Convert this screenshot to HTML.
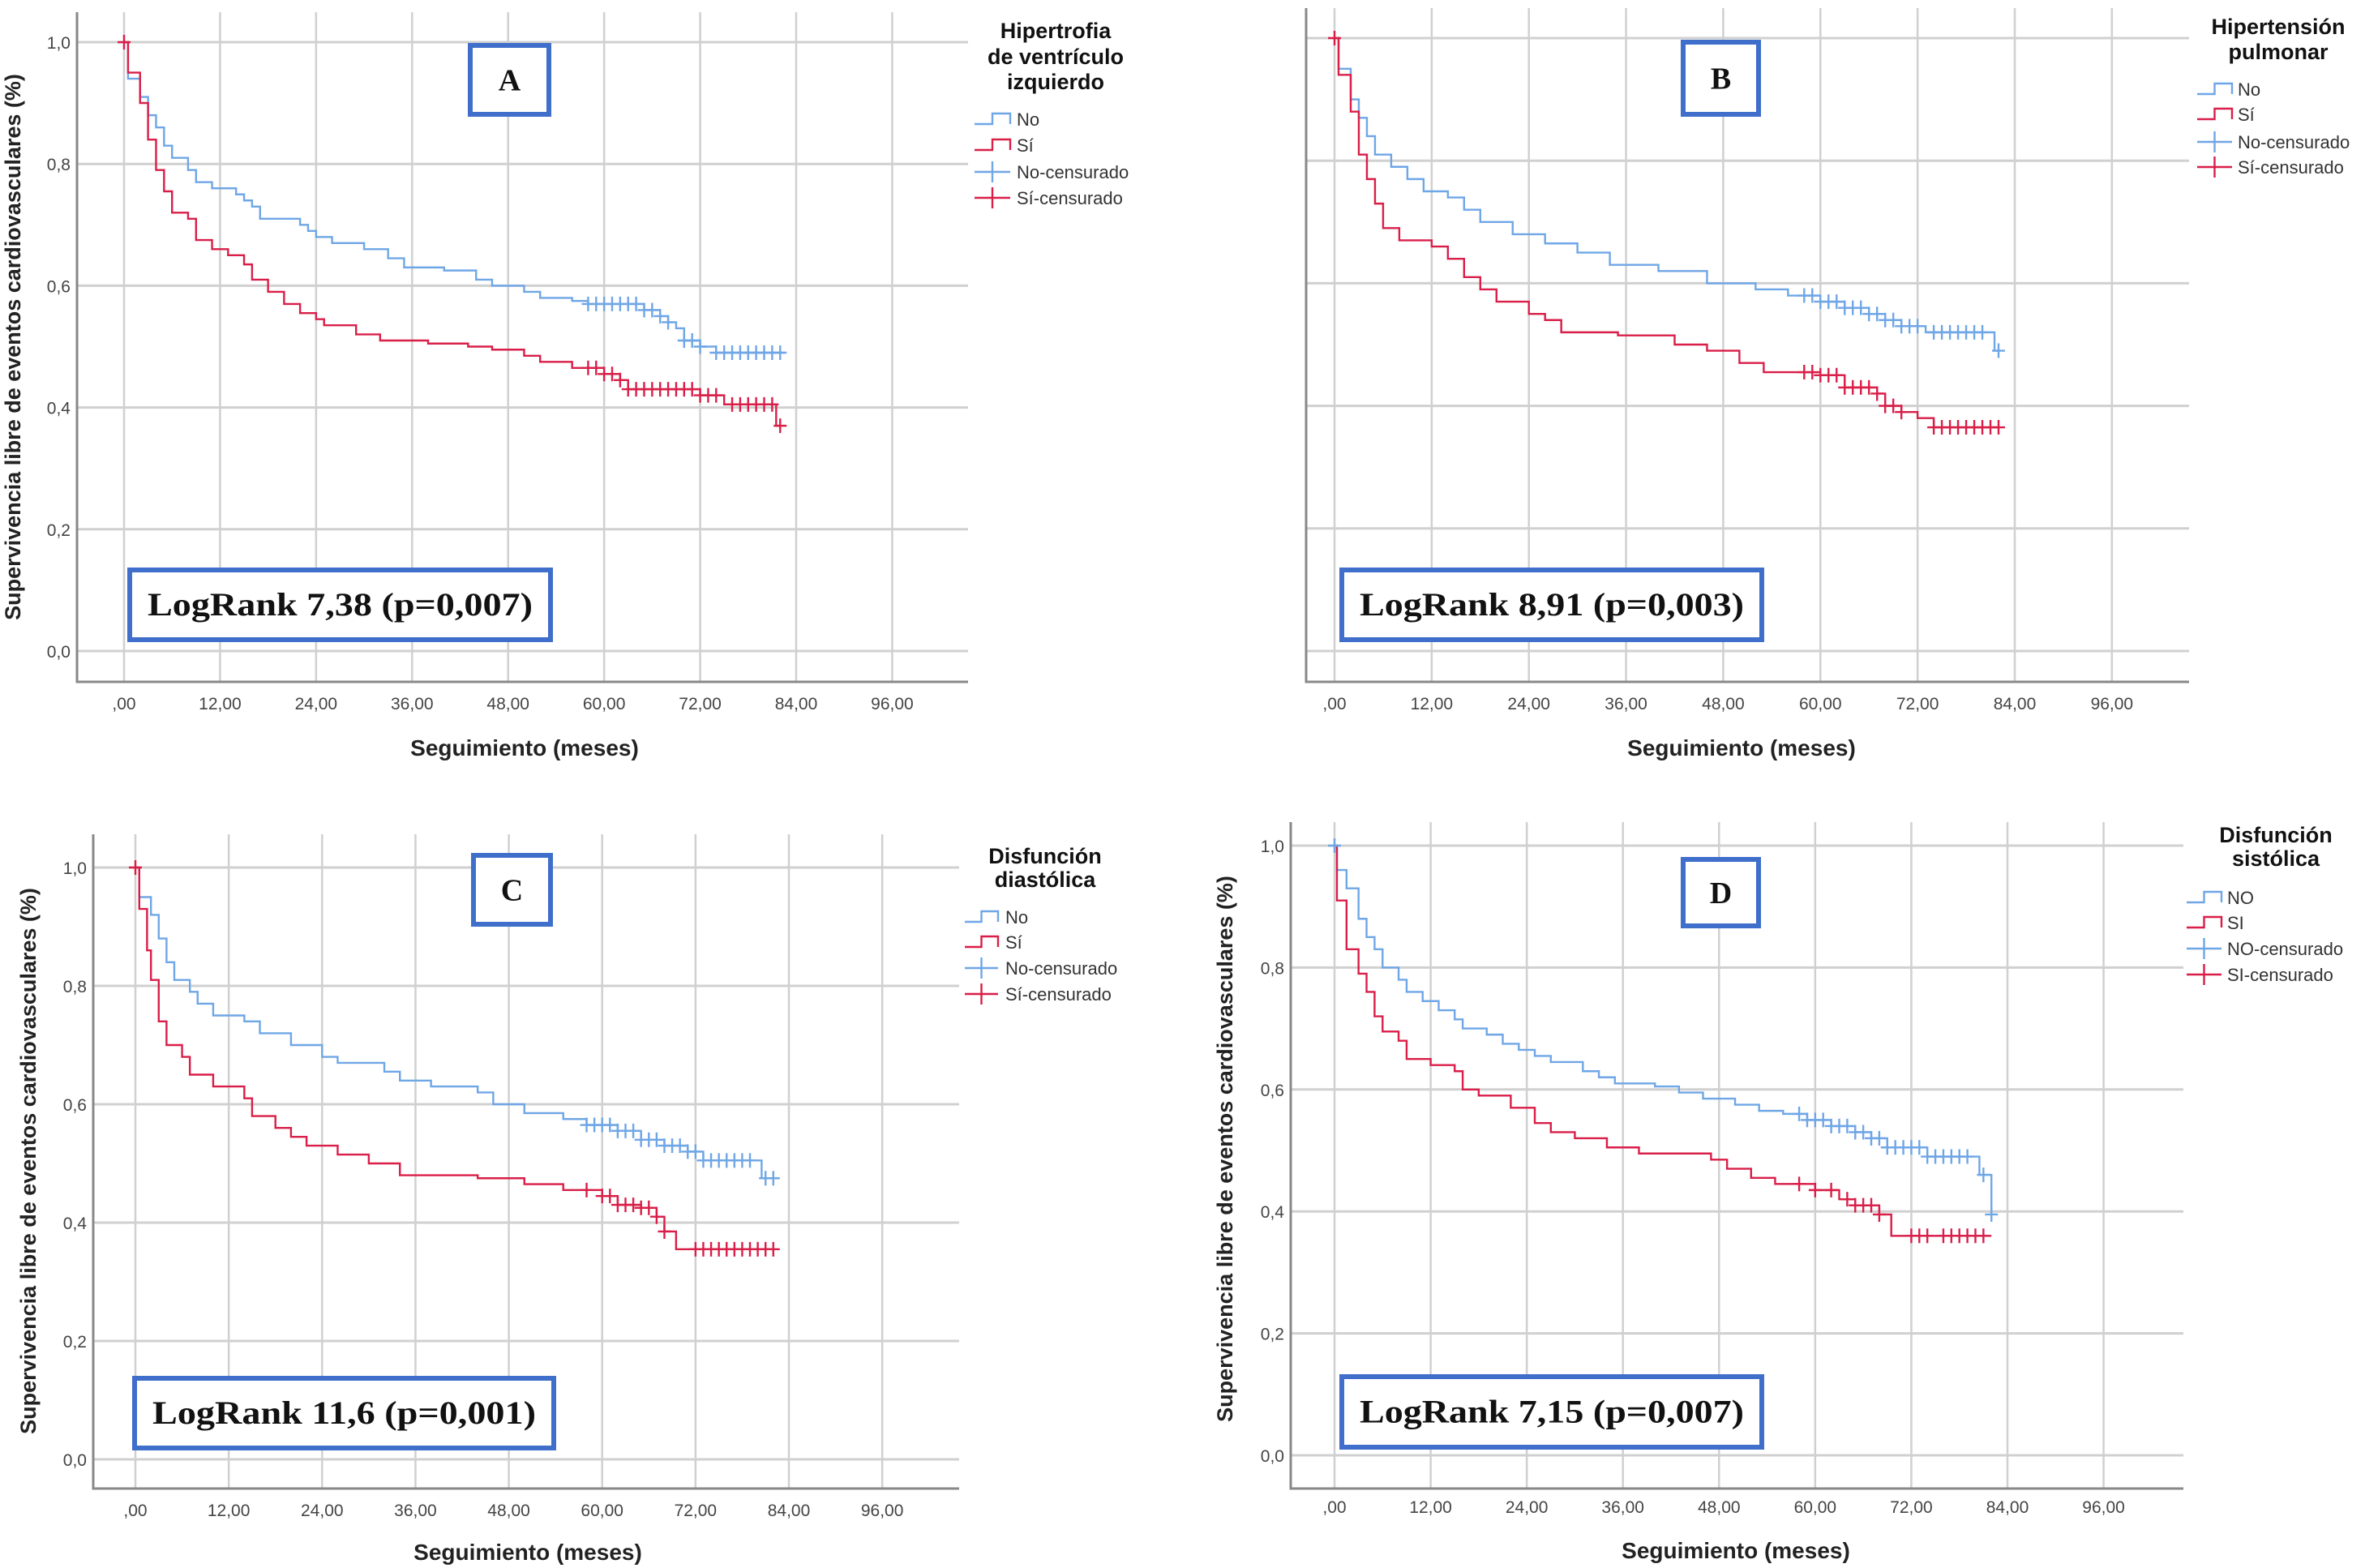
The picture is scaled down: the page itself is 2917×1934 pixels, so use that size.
<!DOCTYPE html>
<html><head><meta charset="utf-8"><style>
html,body{margin:0;padding:0;background:#fff;overflow:hidden;}
svg{display:block;font-family:"Liberation Sans",sans-serif;}
</style></head><body>
<svg id="c" width="2917" height="1934" viewBox="0 0 2917 1934"></svg>
<script>
const aNo=[[0,1],[0.5,0.94],[2,0.91],[3,0.88],[4,0.86],[5,0.83],[6,0.81],[8,0.79],[9,0.77],[11,0.76],[14,0.75],[15,0.74],[16,0.73],[17,0.71],[22,0.70],[23,0.69],[24,0.68],[26,0.67],[30,0.66],[33,0.645],[35,0.63],[40,0.625],[44,0.61],[46,0.60],[50,0.59],[52,0.58],[56,0.575],[58,0.57],[65,0.56],[67,0.55],[68,0.54],[69,0.53],[70,0.51],[72,0.50],[74,0.49],[82.5,0.49]];
const aSi=[[0,1],[0.5,0.95],[2,0.90],[3,0.84],[4,0.79],[5,0.755],[6,0.72],[8,0.71],[9,0.675],[11,0.66],[13,0.65],[15,0.635],[16,0.61],[18,0.59],[20,0.57],[22,0.555],[24,0.545],[25,0.535],[29,0.52],[32,0.51],[38,0.505],[43,0.50],[46,0.495],[50,0.485],[52,0.475],[56,0.465],[60,0.455],[62,0.445],[63,0.43],[72,0.42],[75,0.405],[81.5,0.37],[82,0.37]];
const aNoCens=[58,59,60,61,62,63,64,65,66,67,68,70,71,72,74,75,76,77,78,79,80,81,82];
const aSiCens=[58,59,60,61,62,63,64,65,66,67,68,69,70,71,72,73,74,76,77,78,79,80,81,82];
const bNo=[[0,1],[0.5,0.95],[2,0.90],[3,0.87],[4,0.84],[5,0.81],[7,0.79],[9,0.77],[11,0.75],[14,0.74],[16,0.72],[18,0.70],[22,0.68],[26,0.665],[30,0.65],[34,0.63],[40,0.62],[46,0.60],[52,0.59],[56,0.58],[60,0.57],[63,0.56],[66,0.55],[68,0.54],[70,0.53],[73,0.52],[81.5,0.49],[82,0.49]];
const bSi=[[0,1],[0.5,0.94],[2,0.88],[3,0.81],[4,0.77],[5,0.73],[6,0.69],[8,0.67],[12,0.66],[14,0.64],[16,0.61],[18,0.59],[20,0.57],[24,0.55],[26,0.54],[28,0.52],[35,0.515],[42,0.50],[46,0.49],[50,0.47],[53,0.455],[60,0.45],[63,0.43],[67,0.42],[68,0.40],[70,0.39],[72,0.38],[74,0.365],[82,0.365]];
const bNoCens=[58,59,60,61,62,63,64,65,66,67,68,69,70,71,72,74,75,76,77,78,79,80,82];
const bSiCens=[58,59,60,61,62,63,64,65,66,67,68,69,70,74,75,76,77,78,79,80,81,82];
const cNo=[[0,1],[0.5,0.95],[2,0.92],[3,0.88],[4,0.84],[5,0.81],[7,0.79],[8,0.77],[10,0.75],[14,0.74],[16,0.72],[20,0.70],[24,0.68],[26,0.67],[32,0.655],[34,0.64],[38,0.63],[44,0.62],[46,0.60],[50,0.585],[55,0.575],[58,0.565],[62,0.555],[65,0.54],[68,0.53],[71,0.52],[73,0.505],[80.5,0.475],[82,0.475]];
const cSi=[[0,1],[0.5,0.93],[1.5,0.86],[2,0.81],[3,0.74],[4,0.70],[6,0.68],[7,0.65],[10,0.63],[14,0.61],[15,0.58],[18,0.56],[20,0.545],[22,0.53],[26,0.515],[30,0.50],[34,0.48],[44,0.475],[50,0.465],[55,0.455],[60,0.445],[62,0.43],[65,0.425],[67,0.41],[68,0.385],[69.5,0.355],[82,0.355]];
const cNoCens=[58,59,60,61,62,63,64,65,66,67,68,69,70,71,72,73,74,75,76,77,78,79,81,82];
const cSiCens=[58,60,61,62,63,64,65,66,67,68,72,73,74,75,76,77,78,79,80,81,82];
const dNo=[[0,1],[0.3,0.96],[1.5,0.93],[3,0.88],[4,0.85],[5,0.83],[6,0.80],[8,0.78],[9,0.76],[11,0.745],[13,0.73],[15,0.715],[16,0.70],[19,0.69],[21,0.675],[23,0.665],[25,0.655],[27,0.645],[31,0.63],[33,0.62],[35,0.61],[40,0.605],[43,0.595],[46,0.585],[50,0.575],[53,0.565],[56,0.56],[59,0.55],[62,0.54],[65,0.53],[67,0.52],[69,0.505],[74,0.49],[80.5,0.46],[82,0.395]];
const dSi=[[0,1],[0.3,0.91],[1.5,0.83],[3,0.79],[4,0.76],[5,0.72],[6,0.695],[8,0.68],[9,0.65],[12,0.64],[15,0.63],[16,0.60],[18,0.59],[22,0.57],[25,0.545],[27,0.53],[30,0.52],[34,0.505],[38,0.495],[47,0.485],[49,0.47],[52,0.455],[55,0.445],[60,0.435],[63,0.42],[65,0.41],[68,0.395],[69.5,0.36],[82,0.36]];
const dNoCens=[58,59,60,61,62,63,64,65,66,67,68,69,70,71,72,73,74,75,76,77,78,79,81,82];
const dSiCens=[58,60,62,64,65,66,67,68,72,73,74,76,77,78,79,80,81];
const xTicks=[0,12,24,36,48,60,72,84,96];
const xTickLabels=[",00","12,00","24,00","36,00","48,00","60,00","72,00","84,00","96,00"];
const yTicks=[0,0.2,0.4,0.6,0.8,1.0];
const yTickLabels=["0,0","0,2","0,4","0,6","0,8","1,0"];

const NS="http://www.w3.org/2000/svg";
const svg=document.getElementById('c');
function mk(tag,attrs,parent){const e=document.createElementNS(NS,tag);for(const k in attrs)e.setAttribute(k,attrs[k]);(parent||svg).appendChild(e);return e;}
const BLUE="#6fa6e6",RED="#d91e48";

const panels=[
 {id:"a",L:95,T:15,R:1194,B:841,x0:153,x84:982,y1:52,y0:803,yLabels:true,no:aNo,si:aSi,nc:aNoCens,sc:aSiCens,
  letter:"A",box:[580,56,97,85],lr:"LogRank 7,38 (p=0,007)",lrBox:[160,703,519,86],
  xtY:875,xtitle:[647,932],ytitle:[15,428],
  leg:{title:["Hipertrofia","de ventrículo","izquierdo"],tx:1302,ty:[37,69,100],ey:[147,179,212,244],sx:1202,sx2:1246,tx2:1254,names:["No","Sí","No-censurado","Sí-censurado"]}},
 {id:"b",L:1611,T:10,R:2700,B:841,x0:1646,x84:2485,y1:47,y0:803,yLabels:false,no:bNo,si:bSi,nc:bNoCens,sc:bSiCens,
  letter:"B",box:[2076,52,93,89],lr:"LogRank 8,91 (p=0,003)",lrBox:[1655,703,518,86],
  xtY:875,xtitle:[2148,932],ytitle:null,
  leg:{title:["Hipertensión","pulmonar"],tx:2810,ty:[32,63],ey:[110,141,175,206],sx:2710,sx2:2753,tx2:2760,names:["No","Sí","No-censurado","Sí-censurado"]}},
 {id:"c",L:115,T:1029,R:1183,B:1836,x0:167,x84:973,y1:1070,y0:1800,yLabels:true,no:cNo,si:cSi,nc:cNoCens,sc:cSiCens,
  letter:"C",box:[584,1055,95,85],lr:"LogRank 11,6 (p=0,001)",lrBox:[166,1700,517,86],
  xtY:1870,xtitle:[651,1924],ytitle:[34,1432],
  leg:{title:["Disfunción","diastólica"],tx:1289,ty:[1055,1084],ey:[1131,1162,1194,1226],sx:1190,sx2:1231,tx2:1240,names:["No","Sí","No-censurado","Sí-censurado"]}},
 {id:"d",L:1592,T:1014,R:2693,B:1836,x0:1646,x84:2476,y1:1043,y0:1795,yLabels:true,no:dNo,si:dSi,nc:dNoCens,sc:dSiCens,
  letter:"D",box:[2076,1060,93,82],lr:"LogRank 7,15 (p=0,007)",lrBox:[1655,1698,518,87],
  xtY:1866,xtitle:[2141,1922],ytitle:[1510,1417],
  leg:{title:["Disfunción","sistólica"],tx:2807,ty:[1029,1058],ey:[1107,1138,1170,1202],sx:2697,sx2:2740,tx2:2747,names:["NO","SI","NO-censurado","SI-censurado"]}}
];

function stepPath(data,X,Y){let d="M"+X(data[0][0])+","+Y(data[0][1]);for(let i=1;i<data.length;i++){d+=" H"+X(data[i][0])+" V"+Y(data[i][1]);}return d;}
function survAt(data,t){let s=data[0][1];for(const p of data){if(p[0]<=t)s=p[1];}return s;}

panels.forEach(p=>{
  const g=mk('g',{});
  
  
  const X=t=>p.x0+(p.x84-p.x0)*t/84;
  const Y=v=>p.y0+(p.y1-p.y0)*v;
  yTicks.forEach((v,i)=>{
    const l=mk('line',{x1:p.L,x2:p.R,y1:Y(v),y2:Y(v),stroke:"#d0d0d0","stroke-width":3},g);
    
    
    if(p.yLabels){const t=mk('text',{x:p.L-8,y:Y(v)+8,"text-anchor":"end","font-size":21,fill:"#444"},g);t.textContent=yTickLabels[i];
      
      }
  });
  xTicks.forEach((v,i)=>{
    const l=mk('line',{x1:X(v),x2:X(v),y1:p.T,y2:p.B,stroke:"#d0d0d0","stroke-width":2.5},g);
    
    
    const t=mk('text',{x:X(v),y:p.xtY,"text-anchor":"middle","font-size":21,fill:"#444"},g);t.textContent=xTickLabels[i];
    
    
  });
  const ax=mk('path',{d:`M${p.L},${p.T} V${p.B} H${p.R}`,fill:"none",stroke:"#888","stroke-width":3},g);
  
  
  [[p.no,BLUE,p.nc,'no'],[p.si,RED,p.sc,'si']].forEach(([data,col,cens,nm])=>{
    const path=mk('path',{d:stepPath(data,X,Y),fill:"none",stroke:col,"stroke-width":2.4},g);
    
    
    cens.forEach(t=>{
      const cx=X(t),cy=Y(survAt(data,t));
      const c=mk('path',{d:`M${cx-8},${cy} H${cx+8} M${cx},${cy-9} V${cy+9}`,stroke:col,"stroke-width":2.4},g);
      
      
    });
  });
  const s0=mk('path',{d:`M${X(0)-8},${Y(1)} H${X(0)+8} M${X(0)},${Y(1)-9} V${Y(1)+9}`,stroke:p.id==='d'?BLUE:RED,"stroke-width":2.4},g);
  
  
  const b=p.box;
  const lb=mk('rect',{x:b[0],y:b[1],width:b[2],height:b[3],fill:"#fff",stroke:"#3f6ecb","stroke-width":6},g);
  
  
  const lt=mk('text',{x:b[0]+b[2]/2,y:b[1]+b[3]/2+13,"text-anchor":"middle","font-size":38,"font-weight":"bold","font-family":"Liberation Serif, serif",fill:"#111"},g);lt.textContent=p.letter;
  
  
  const r=p.lrBox;
  const rb=mk('rect',{x:r[0],y:r[1],width:r[2],height:r[3],fill:"#fff",stroke:"#3f6ecb","stroke-width":6},g);
  
  
  const rt=mk('text',{x:r[0]+r[2]/2,y:r[1]+r[3]/2+13,"text-anchor":"middle","font-size":40,"font-weight":"bold","font-family":"Liberation Serif, serif",fill:"#111",textLength:r[2]-44,lengthAdjust:"spacingAndGlyphs"},g);rt.textContent=p.lr;
  
  
  const xt=mk('text',{x:p.xtitle[0],y:p.xtitle[1],"text-anchor":"middle","font-size":28,"font-weight":"bold",fill:"#222"},g);xt.textContent="Seguimiento (meses)";
  
  
  if(p.ytitle){const yt=mk('text',{x:0,y:0,transform:`translate(${p.ytitle[0]+10},${p.ytitle[1]}) rotate(-90)`,"text-anchor":"middle","font-size":27,"font-weight":"bold",fill:"#222"},g);yt.textContent="Supervivencia libre de eventos cardiovasculares (%)";
    
    }
  const L=p.leg;
  L.title.forEach((s,i)=>{const t=mk('text',{x:L.tx,y:L.ty[i]+10,"text-anchor":"middle","font-size":27,"font-weight":"bold",fill:"#111"},g);t.textContent=s;
    
    });
  L.names.forEach((s,i)=>{
    const y=L.ey[i],col=i%2?RED:BLUE;
    let d;const m=(L.sx+L.sx2)/2;
    if(i<2){d=`M${L.sx},${y+6} H${m} V${y-7} H${L.sx2} V${y+6}`;}
    else{d=`M${L.sx},${y} H${L.sx2} M${m},${y-13} V${y+13}`;}
    const sw=mk('path',{d:d,fill:"none",stroke:col,"stroke-width":2.4},g);
    
    
    const t=mk('text',{x:L.tx2,y:y+8,"font-size":22,fill:"#333"},g);t.textContent=s;
    
    
  });
});
</script>
</body></html>
